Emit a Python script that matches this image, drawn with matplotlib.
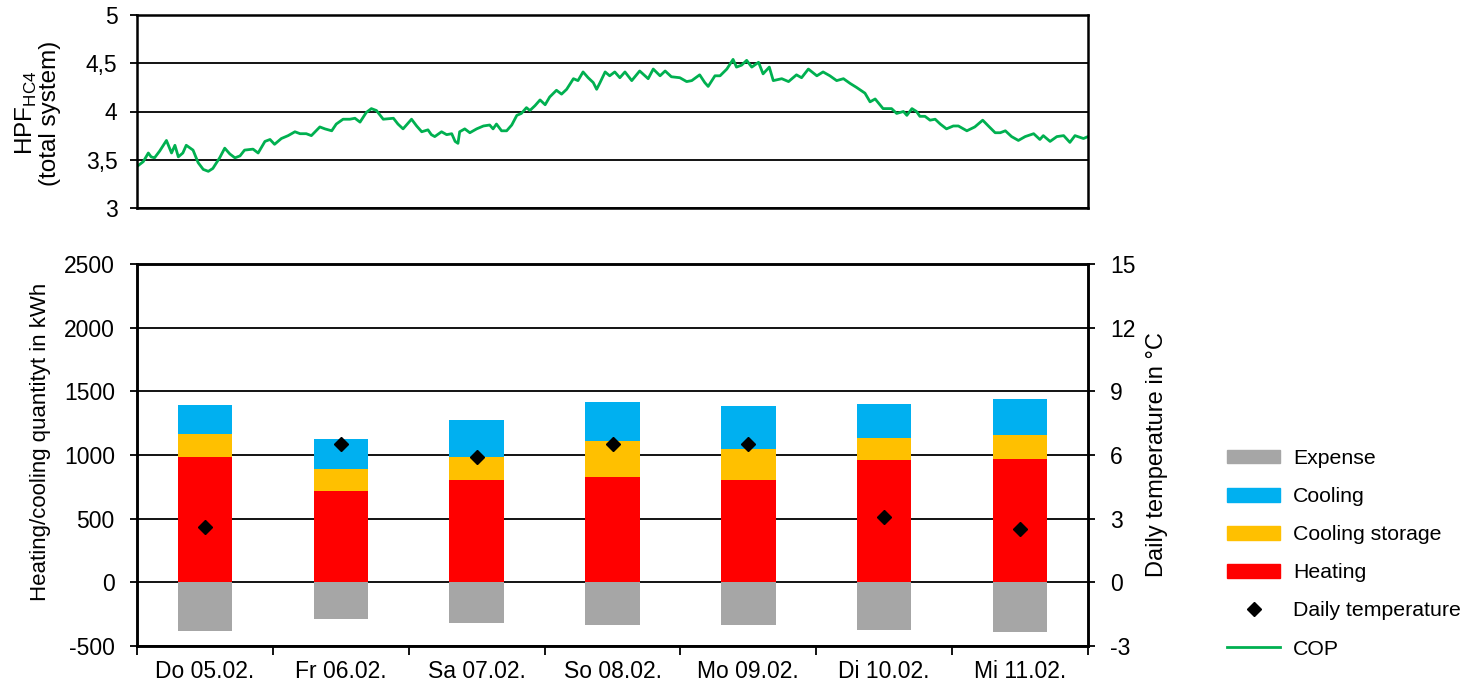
import matplotlib
matplotlib.use("Agg")
import matplotlib.pyplot as plt
from matplotlib.patches import Patch
from matplotlib.lines import Line2D

plt.rcParams['font.family'] = ['Liberation Sans', 'DejaVu Sans']
plt.rcParams['font.size'] = 16.5
plt.rcParams['axes.unicode_minus'] = False

# ---- data ----
days = ["Do 05.02.", "Fr 06.02.", "Sa 07.02.", "So 08.02.", "Mo 09.02.", "Di 10.02.", "Mi 11.02."]
heating = [982, 718, 802, 825, 804, 961, 967]
cooling_storage = [179, 170, 186, 283, 244, 171, 188]
cooling = [230, 236, 288, 309, 335, 267, 281]
expense = [-385, -288, -322, -333, -333, -377, -390]
daily_temp = [2.6, 6.5, 5.9, 6.5, 6.5, 3.1, 2.5]

cop_hours = [0.0, 1.1, 2.0, 2.5, 3.1, 4.0, 5.2, 6.1, 6.7, 7.3, 8.1, 8.7, 9.9, 10.8, 11.7,
             12.6, 13.4, 14.6, 15.5, 16.4, 17.3, 18.2, 19.0, 20.5, 21.4, 22.6, 23.5, 24.3,
             25.5, 26.7, 27.9, 28.8, 29.9, 30.8, 32.3, 33.2, 34.4, 35.2, 36.4, 37.6, 38.5,
             39.4, 40.5, 41.4, 42.3, 43.5, 45.3, 46.1, 47.0, 48.5, 49.4, 50.3, 51.4, 52.0,
             52.6, 53.8, 54.7, 55.6, 56.2, 56.7, 57.0, 57.9, 58.8, 60.0, 61.2, 62.3, 62.9,
             63.5, 64.4, 65.3, 66.2, 67.1, 67.9, 68.8, 69.4, 70.3, 71.2, 72.1, 72.9, 74.1,
             75.0, 75.9, 77.1, 77.9, 78.8, 79.7, 80.6, 81.2,
             81.8, 82.7, 83.5, 84.4, 85.3, 86.2, 87.4, 88.8, 90.3, 91.2, 92.4, 93.3, 94.4,
             95.9, 97.1, 98.0, 99.4, 100.3, 100.9, 102.1, 103.0, 104.2, 105.3, 105.9, 106.8,
             107.7, 108.6, 109.8, 110.6, 111.7, 112.4, 113.9, 115.1, 116.5, 117.4, 118.6,
             120.1, 121.2, 122.4, 123.6, 124.8, 126.0, 127.1, 128.6, 129.5, 130.4, 131.8,
             133.3, 134.2, 135.4, 136.0, 136.9, 137.7, 138.3, 139.2, 140.1, 141.0, 141.9,
             143.0, 144.2, 145.1, 146.6, 148.0, 149.4, 150.4, 151.6, 152.5, 153.4, 154.5,
             155.7, 156.9, 158.4, 159.5, 160.1, 161.3, 162.5, 163.7, 164.8, 165.7, 167.2, 168.0]
cop_values = [3.43, 3.48, 3.57, 3.53, 3.52, 3.59, 3.70, 3.57, 3.65, 3.53, 3.57, 3.65, 3.60,
              3.47, 3.40, 3.38, 3.41, 3.52, 3.62, 3.56, 3.52, 3.54, 3.60, 3.61, 3.57, 3.69,
              3.71, 3.66, 3.72, 3.75, 3.79, 3.77, 3.77, 3.75, 3.84, 3.82, 3.80, 3.87, 3.92,
              3.92, 3.93, 3.89, 3.99, 4.03, 4.01, 3.92, 3.93, 3.87, 3.82, 3.92, 3.85, 3.79,
              3.81, 3.76, 3.74, 3.79, 3.76, 3.77, 3.69, 3.67, 3.79, 3.82, 3.78, 3.82, 3.85,
              3.86, 3.82, 3.87, 3.80, 3.80, 3.86, 3.96, 3.98, 4.04, 4.01, 4.06, 4.12, 4.07,
              4.15, 4.22, 4.18, 4.23, 4.34, 4.32, 4.41, 4.35, 4.30, 4.23,
              4.30, 4.41, 4.37, 4.41, 4.35, 4.41, 4.32, 4.42, 4.34, 4.44, 4.37, 4.42, 4.36,
              4.35, 4.31, 4.32, 4.38, 4.30, 4.26, 4.37, 4.37, 4.44, 4.54, 4.46, 4.48, 4.53,
              4.46, 4.51, 4.39, 4.46, 4.32, 4.34, 4.31, 4.38, 4.35, 4.44, 4.37, 4.41, 4.37,
              4.32, 4.34, 4.29, 4.25, 4.19, 4.10, 4.13, 4.03, 4.03, 3.98, 4.00, 3.96, 4.03,
              4.00, 3.95, 3.95, 3.91, 3.92, 3.87, 3.82, 3.85, 3.85, 3.80, 3.84, 3.91, 3.85,
              3.78, 3.78, 3.80, 3.74, 3.70, 3.74, 3.77, 3.71, 3.75, 3.69, 3.74, 3.75, 3.68,
              3.75, 3.72, 3.74]

c_exp = '#A6A6A6'
c_cool = '#00B0F0'
c_stor = '#FFC000'
c_heat = '#FF0000'
c_cop = '#00B050'

W, H = 1478, 688
fig = plt.figure(figsize=(W / 100, H / 100), dpi=100)

def frac(l, t, r, b):
    return [l / W, 1 - b / H, (r - l) / W, (b - t) / H]

SPW = 1.8

# ---- top: COP ----
ax1 = fig.add_axes(frac(137, 15, 1088, 208))
ax1.plot(cop_hours, cop_values, color=c_cop, lw=2.0)
ax1.set_xlim(0, 168)
ax1.set_ylim(3, 5)
ax1.set_yticks([3, 3.5, 4, 4.5, 5])
ax1.set_yticklabels(['3', '3,5', '4', '4,5', '5'])
ax1.set_xticks([])
ax1.yaxis.grid(True, color='black', lw=1.3)
ax1.set_axisbelow(True)
for s in ax1.spines.values():
    s.set_linewidth(SPW)
ax1.tick_params(axis='y', length=5, width=1.3, direction='out', pad=9)
fig.text(37 / W, 1 - 113 / H, 'HPF$_{\\mathregular{HC4}}$\n(total system)', rotation=90,
         ha='center', va='center', fontsize=17.5, linespacing=1.0, multialignment='center')

# ---- bottom: bars ----
ax2 = fig.add_axes(frac(137, 264, 1088, 646))
x = list(range(len(days)))
bw = 0.4
ax2.bar(x, expense, bw, color=c_exp, zorder=3)
ax2.bar(x, heating, bw, color=c_heat, zorder=3)
ax2.bar(x, cooling_storage, bw, bottom=heating, color=c_stor, zorder=3)
bottom2 = [h + s for h, s in zip(heating, cooling_storage)]
ax2.bar(x, cooling, bw, bottom=bottom2, color=c_cool, zorder=3)
ax2.set_xlim(-0.5, len(days) - 0.5)
ax2.set_ylim(-500, 2500)
ax2.set_yticks(range(-500, 2501, 500))
ax2.yaxis.grid(True, color='black', lw=1.3, zorder=1)
ax2.set_axisbelow(True)
ax2.set_xticks(x)
ax2.set_xticklabels(days)
ax2.set_xticks([i - 0.5 for i in range(len(days) + 1)], minor=True)
ax2.tick_params(axis='x', which='major', length=0, pad=10)
ax2.tick_params(axis='x', which='minor', length=6.5, width=1.3, direction='out')
ax2.tick_params(axis='y', length=5, width=1.3, direction='out', pad=11)
for s in ax2.spines.values():
    s.set_linewidth(SPW)
fig.text(41 / W, 1 - 442 / H, 'Heating/cooling quantityt in kWh', rotation=90,
         ha='center', va='center', fontsize=16)

ax3 = ax2.twinx()
ax3.plot(x, daily_temp, linestyle='none', marker='D', color='black', markersize=7)
ax3.set_ylim(-3, 15)
ax3.set_yticks(range(-3, 16, 3))
ax3.tick_params(axis='y', length=5, width=1.3, direction='out', pad=11)
for s in ax3.spines.values():
    s.set_linewidth(SPW)
fig.text(1157 / W, 1 - 455 / H, 'Daily temperature in °C', rotation=90,
         ha='center', va='center', fontsize=17)

# ---- legend ----
handles = [Patch(color=c_exp), Patch(color=c_cool), Patch(color=c_stor), Patch(color=c_heat),
           Line2D([], [], linestyle='none', marker='D', color='black', markersize=7),
           Line2D([], [], color=c_cop, lw=2.0)]
labels = ['Expense', 'Cooling', 'Cooling storage', 'Heating', 'Daily temperature', 'COP']
fig.legend(handles, labels, loc='upper left', bbox_to_anchor=(1227 / W, 1 - 449 / H),
           frameon=False, fontsize=15.3, handlelength=2.5, handleheight=0.62,
           labelspacing=0.9, handletextpad=0.62, borderaxespad=0, borderpad=0)

fig.savefig('out.png', dpi=100)
